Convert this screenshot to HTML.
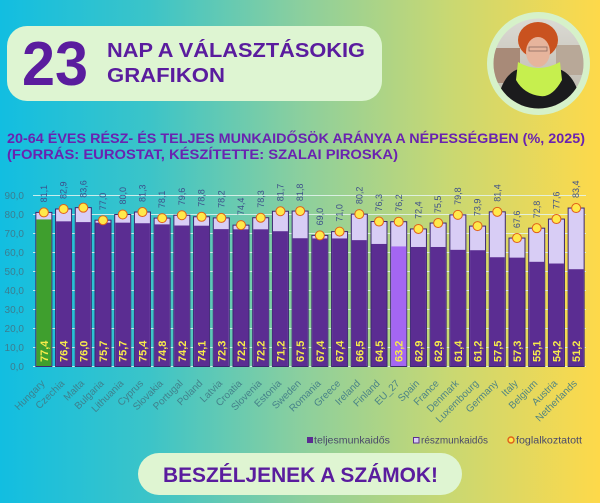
<!DOCTYPE html>
<html><head><meta charset="utf-8"><style>
html,body{margin:0;padding:0;width:600px;height:503px;overflow:hidden;}
svg{display:block;}
text{font-family:"Liberation Sans",sans-serif;}
</style></head><body>
<svg width="600" height="503" viewBox="0 0 600 503" xmlns="http://www.w3.org/2000/svg">
<defs>
<linearGradient id="bg" x1="0" y1="0" x2="1" y2="0">
<stop offset="0" stop-color="#12bee1"/>
<stop offset="0.25" stop-color="#3cc4c8"/>
<stop offset="0.5" stop-color="#8bcf9e"/>
<stop offset="0.75" stop-color="#c9d872"/>
<stop offset="1" stop-color="#fed94a"/>
</linearGradient>
<clipPath id="ph"><circle cx="538.5" cy="63.5" r="45"/></clipPath>
<linearGradient id="sky" x1="0" y1="0" x2="0" y2="1">
<stop offset="0" stop-color="#dcdcd6"/><stop offset="1" stop-color="#b9b2a6"/>
</linearGradient>
</defs>
<rect width="600" height="503" fill="url(#bg)"/>

<!-- header -->
<rect x="7" y="26" width="375" height="75" rx="20" fill="#def5d2"/>
<text x="22" y="85" font-size="62" font-weight="bold" fill="#5a1c9e" textLength="66" lengthAdjust="spacingAndGlyphs">23</text>
<text x="107" y="57" font-size="20" font-weight="bold" fill="#5a1c9e" textLength="258" lengthAdjust="spacingAndGlyphs">NAP A VÁLASZTÁSOKIG</text>
<text x="107" y="82" font-size="20" font-weight="bold" fill="#5a1c9e" textLength="118" lengthAdjust="spacingAndGlyphs">GRAFIKON</text>

<!-- photo -->
<circle cx="538.5" cy="63.5" r="51.5" fill="#d6f1c9"/>
<g clip-path="url(#ph)">
<rect x="490" y="15" width="100" height="100" fill="url(#sky)"/>
<rect x="490" y="48" width="30" height="35" fill="#a88a78"/>
<rect x="556" y="45" width="34" height="30" fill="#b8a898"/>
<ellipse cx="538" cy="40" rx="20" ry="18" fill="#c9521f"/>
<ellipse cx="538" cy="52" rx="12" ry="15" fill="#e6b49c"/>
<rect x="529" y="47" width="18" height="4" fill="none" stroke="#8a6a60" stroke-width="0.8"/>
<path d="M496 112 Q500 72 522 68 L555 68 Q578 72 582 112 Z" fill="#1b1b1d"/>
<path d="M518 62 Q538 74 560 62 L562 80 Q552 98 540 96 Q524 94 516 80 Z" fill="#c6ef4e"/>
</g>

<!-- title -->
<text x="7" y="143" font-size="13.5" font-weight="bold" fill="#6a22b0" textLength="578" lengthAdjust="spacingAndGlyphs">20-64 ÉVES RÉSZ- ÉS TELJES MUNKAIDŐSÖK ARÁNYA A NÉPESSÉGBEN (%, 2025)</text>
<text x="7" y="159" font-size="13.5" font-weight="bold" fill="#6a22b0" textLength="391" lengthAdjust="spacingAndGlyphs">(FORRÁS: EUROSTAT, KÉSZÍTETTE: SZALAI PIROSKA)</text>

<!-- gridlines -->
<g stroke="#e4f4f0" stroke-opacity="0.85" stroke-width="1">
<line x1="33" x2="586" y1="195.5" y2="195.5"/>
<line x1="33" x2="586" y1="214.5" y2="214.5"/>
<line x1="33" x2="586" y1="233.5" y2="233.5"/>
<line x1="33" x2="586" y1="252.5" y2="252.5"/>
<line x1="33" x2="586" y1="271.5" y2="271.5"/>
<line x1="33" x2="586" y1="290.5" y2="290.5"/>
<line x1="33" x2="586" y1="309.5" y2="309.5"/>
<line x1="33" x2="586" y1="328.5" y2="328.5"/>
<line x1="33" x2="586" y1="347.5" y2="347.5"/>
<line x1="33" x2="586" y1="366.5" y2="366.5"/>
</g>
<g font-size="10" fill="#3c7d90" text-anchor="end">
<text x="24" y="199">90,0</text>
<text x="24" y="218">80,0</text>
<text x="24" y="237">70,0</text>
<text x="24" y="256">60,0</text>
<text x="24" y="275">50,0</text>
<text x="24" y="294">40,0</text>
<text x="24" y="313">30,0</text>
<text x="24" y="332">20,0</text>
<text x="24" y="351">10,0</text>
<text x="24" y="370">0,0</text>
</g>

<!-- bars: part-time (total) rect, full-time rect, outline -->
<g stroke="#3b2770" stroke-width="1">
<rect x="35.86" y="212.41" width="16" height="154.09" fill="#d8cdf5"/>
<rect x="55.57" y="208.99" width="16" height="157.51" fill="#d8cdf5"/>
<rect x="75.29" y="207.66" width="16" height="158.84" fill="#d8cdf5"/>
<rect x="95.00" y="220.2" width="16" height="146.3" fill="#d8cdf5"/>
<rect x="114.71" y="214.5" width="16" height="152" fill="#d8cdf5"/>
<rect x="134.43" y="212.03" width="16" height="154.47" fill="#d8cdf5"/>
<rect x="154.14" y="218.11" width="16" height="148.39" fill="#d8cdf5"/>
<rect x="173.86" y="215.26" width="16" height="151.24" fill="#d8cdf5"/>
<rect x="193.57" y="216.78" width="16" height="149.72" fill="#d8cdf5"/>
<rect x="213.29" y="217.92" width="16" height="148.58" fill="#d8cdf5"/>
<rect x="233.00" y="225.14" width="16" height="141.36" fill="#d8cdf5"/>
<rect x="252.71" y="217.73" width="16" height="148.77" fill="#d8cdf5"/>
<rect x="272.43" y="211.27" width="16" height="155.23" fill="#d8cdf5"/>
<rect x="292.14" y="211.08" width="16" height="155.42" fill="#d8cdf5"/>
<rect x="311.86" y="235.4" width="16" height="131.1" fill="#d8cdf5"/>
<rect x="331.57" y="231.6" width="16" height="134.9" fill="#d8cdf5"/>
<rect x="351.29" y="214.12" width="16" height="152.38" fill="#d8cdf5"/>
<rect x="371.00" y="221.53" width="16" height="144.97" fill="#d8cdf5"/>
<rect x="390.71" y="221.72" width="16" height="144.78" fill="#d8cdf5"/>
<rect x="410.43" y="228.94" width="16" height="137.56" fill="#d8cdf5"/>
<rect x="430.14" y="223.05" width="16" height="143.45" fill="#d8cdf5"/>
<rect x="449.86" y="214.88" width="16" height="151.62" fill="#d8cdf5"/>
<rect x="469.57" y="226.09" width="16" height="140.41" fill="#d8cdf5"/>
<rect x="489.29" y="211.84" width="16" height="154.66" fill="#d8cdf5"/>
<rect x="509.00" y="238.06" width="16" height="128.44" fill="#d8cdf5"/>
<rect x="528.71" y="228.18" width="16" height="138.32" fill="#d8cdf5"/>
<rect x="548.43" y="219.06" width="16" height="147.44" fill="#d8cdf5"/>
<rect x="568.14" y="208.04" width="16" height="158.46" fill="#d8cdf5"/>
</g>
<g stroke="none">
<rect x="36.36" y="219.44" width="15" height="146.56" fill="#3f9f2e"/>
<rect x="56.07" y="221.34" width="15" height="144.66" fill="#5b2d92"/>
<rect x="75.79" y="222.1" width="15" height="143.9" fill="#5b2d92"/>
<rect x="95.50" y="222.67" width="15" height="143.33" fill="#5b2d92"/>
<rect x="115.21" y="222.67" width="15" height="143.33" fill="#5b2d92"/>
<rect x="134.93" y="223.24" width="15" height="142.76" fill="#5b2d92"/>
<rect x="154.64" y="224.38" width="15" height="141.62" fill="#5b2d92"/>
<rect x="174.36" y="225.52" width="15" height="140.48" fill="#5b2d92"/>
<rect x="194.07" y="225.71" width="15" height="140.29" fill="#5b2d92"/>
<rect x="213.79" y="229.13" width="15" height="136.87" fill="#5b2d92"/>
<rect x="233.50" y="229.32" width="15" height="136.68" fill="#5b2d92"/>
<rect x="253.21" y="229.32" width="15" height="136.68" fill="#5b2d92"/>
<rect x="272.93" y="231.22" width="15" height="134.78" fill="#5b2d92"/>
<rect x="292.64" y="238.25" width="15" height="127.75" fill="#5b2d92"/>
<rect x="312.36" y="238.44" width="15" height="127.56" fill="#5b2d92"/>
<rect x="332.07" y="238.44" width="15" height="127.56" fill="#5b2d92"/>
<rect x="351.79" y="240.15" width="15" height="125.85" fill="#5b2d92"/>
<rect x="371.50" y="243.95" width="15" height="122.05" fill="#5b2d92"/>
<rect x="391.21" y="246.42" width="15" height="119.58" fill="#a466f2"/>
<rect x="410.93" y="246.99" width="15" height="119.01" fill="#5b2d92"/>
<rect x="430.64" y="246.99" width="15" height="119.01" fill="#5b2d92"/>
<rect x="450.36" y="249.84" width="15" height="116.16" fill="#5b2d92"/>
<rect x="470.07" y="250.22" width="15" height="115.78" fill="#5b2d92"/>
<rect x="489.79" y="257.25" width="15" height="108.75" fill="#5b2d92"/>
<rect x="509.50" y="257.63" width="15" height="108.37" fill="#5b2d92"/>
<rect x="529.21" y="261.81" width="15" height="104.19" fill="#5b2d92"/>
<rect x="548.93" y="263.52" width="15" height="102.48" fill="#5b2d92"/>
<rect x="568.64" y="269.22" width="15" height="96.78" fill="#5b2d92"/>
</g>

<!-- circles -->
<g fill="#ffe94a" stroke="#e0601a" stroke-width="1">
<circle cx="43.86" cy="212.41" r="4.5"/>
<circle cx="63.57" cy="208.99" r="4.5"/>
<circle cx="83.29" cy="207.66" r="4.5"/>
<circle cx="103.00" cy="220.2" r="4.5"/>
<circle cx="122.71" cy="214.5" r="4.5"/>
<circle cx="142.43" cy="212.03" r="4.5"/>
<circle cx="162.14" cy="218.11" r="4.5"/>
<circle cx="181.86" cy="215.26" r="4.5"/>
<circle cx="201.57" cy="216.78" r="4.5"/>
<circle cx="221.29" cy="217.92" r="4.5"/>
<circle cx="241.00" cy="225.14" r="4.5"/>
<circle cx="260.71" cy="217.73" r="4.5"/>
<circle cx="280.43" cy="211.27" r="4.5"/>
<circle cx="300.14" cy="211.08" r="4.5"/>
<circle cx="319.86" cy="235.4" r="4.5"/>
<circle cx="339.57" cy="231.6" r="4.5"/>
<circle cx="359.29" cy="214.12" r="4.5"/>
<circle cx="379.00" cy="221.53" r="4.5"/>
<circle cx="398.71" cy="221.72" r="4.5"/>
<circle cx="418.43" cy="228.94" r="4.5"/>
<circle cx="438.14" cy="223.05" r="4.5"/>
<circle cx="457.86" cy="214.88" r="4.5"/>
<circle cx="477.57" cy="226.09" r="4.5"/>
<circle cx="497.29" cy="211.84" r="4.5"/>
<circle cx="517.00" cy="238.06" r="4.5"/>
<circle cx="536.71" cy="228.18" r="4.5"/>
<circle cx="556.43" cy="219.06" r="4.5"/>
<circle cx="576.14" cy="208.04" r="4.5"/>
</g>

<!-- top labels (total) -->
<g font-size="9" fill="#3d4f8a">
<text transform="translate(47.0,202.4) rotate(-90)">81,1</text>
<text transform="translate(66.7,199.0) rotate(-90)">82,9</text>
<text transform="translate(86.4,197.7) rotate(-90)">83,6</text>
<text transform="translate(106.1,210.2) rotate(-90)">77,0</text>
<text transform="translate(125.8,204.5) rotate(-90)">80,0</text>
<text transform="translate(145.5,202.0) rotate(-90)">81,3</text>
<text transform="translate(165.2,208.1) rotate(-90)">78,1</text>
<text transform="translate(185.0,205.3) rotate(-90)">79,6</text>
<text transform="translate(204.7,206.8) rotate(-90)">78,8</text>
<text transform="translate(224.4,207.9) rotate(-90)">78,2</text>
<text transform="translate(244.1,215.1) rotate(-90)">74,4</text>
<text transform="translate(263.8,207.7) rotate(-90)">78,3</text>
<text transform="translate(283.5,201.3) rotate(-90)">81,7</text>
<text transform="translate(303.2,201.1) rotate(-90)">81,8</text>
<text transform="translate(323.0,225.4) rotate(-90)">69,0</text>
<text transform="translate(342.7,221.6) rotate(-90)">71,0</text>
<text transform="translate(362.4,204.1) rotate(-90)">80,2</text>
<text transform="translate(382.1,211.5) rotate(-90)">76,3</text>
<text transform="translate(401.8,211.7) rotate(-90)">76,2</text>
<text transform="translate(421.5,218.9) rotate(-90)">72,4</text>
<text transform="translate(441.2,213.1) rotate(-90)">75,5</text>
<text transform="translate(461.0,204.9) rotate(-90)">79,8</text>
<text transform="translate(480.7,216.1) rotate(-90)">73,9</text>
<text transform="translate(500.4,201.8) rotate(-90)">81,4</text>
<text transform="translate(520.1,228.1) rotate(-90)">67,6</text>
<text transform="translate(539.8,218.2) rotate(-90)">72,8</text>
<text transform="translate(559.5,209.1) rotate(-90)">77,6</text>
<text transform="translate(579.2,198.0) rotate(-90)">83,4</text>
</g>

<!-- bottom labels (full-time) -->
<g font-size="11" font-weight="bold" fill="#f7ec4a">
<text transform="translate(47.9,362) rotate(-90)">77,4</text>
<text transform="translate(67.6,362) rotate(-90)">76,4</text>
<text transform="translate(87.3,362) rotate(-90)">76,0</text>
<text transform="translate(107.0,362) rotate(-90)">75,7</text>
<text transform="translate(126.7,362) rotate(-90)">75,7</text>
<text transform="translate(146.4,362) rotate(-90)">75,4</text>
<text transform="translate(166.1,362) rotate(-90)">74,8</text>
<text transform="translate(185.9,362) rotate(-90)">74,2</text>
<text transform="translate(205.6,362) rotate(-90)">74,1</text>
<text transform="translate(225.3,362) rotate(-90)">72,3</text>
<text transform="translate(245.0,362) rotate(-90)">72,2</text>
<text transform="translate(264.7,362) rotate(-90)">72,2</text>
<text transform="translate(284.4,362) rotate(-90)">71,2</text>
<text transform="translate(304.1,362) rotate(-90)">67,5</text>
<text transform="translate(323.9,362) rotate(-90)">67,4</text>
<text transform="translate(343.6,362) rotate(-90)">67,4</text>
<text transform="translate(363.3,362) rotate(-90)">66,5</text>
<text transform="translate(383.0,362) rotate(-90)">64,5</text>
<text transform="translate(402.7,362) rotate(-90)">63,2</text>
<text transform="translate(422.4,362) rotate(-90)">62,9</text>
<text transform="translate(442.1,362) rotate(-90)">62,9</text>
<text transform="translate(461.9,362) rotate(-90)">61,4</text>
<text transform="translate(481.6,362) rotate(-90)">61,2</text>
<text transform="translate(501.3,362) rotate(-90)">57,5</text>
<text transform="translate(521.0,362) rotate(-90)">57,3</text>
<text transform="translate(540.7,362) rotate(-90)">55,1</text>
<text transform="translate(560.4,362) rotate(-90)">54,2</text>
<text transform="translate(580.1,362) rotate(-90)">51,2</text>
</g>

<!-- x labels -->
<g font-size="10" fill="#3f7a86" fill-opacity="0.9" text-anchor="end">
<text transform="translate(45.4,384) rotate(-45)">Hungary</text>
<text transform="translate(65.1,384) rotate(-45)">Czechia</text>
<text transform="translate(84.8,384) rotate(-45)">Malta</text>
<text transform="translate(104.5,384) rotate(-45)">Bulgaria</text>
<text transform="translate(124.2,384) rotate(-45)">Lithuania</text>
<text transform="translate(143.9,384) rotate(-45)">Cyprus</text>
<text transform="translate(163.6,384) rotate(-45)">Slovakia</text>
<text transform="translate(183.4,384) rotate(-45)">Portugal</text>
<text transform="translate(203.1,384) rotate(-45)">Poland</text>
<text transform="translate(222.8,384) rotate(-45)">Latvia</text>
<text transform="translate(242.5,384) rotate(-45)">Croatia</text>
<text transform="translate(262.2,384) rotate(-45)">Slovenia</text>
<text transform="translate(281.9,384) rotate(-45)">Estonia</text>
<text transform="translate(301.6,384) rotate(-45)">Sweden</text>
<text transform="translate(321.4,384) rotate(-45)">Romania</text>
<text transform="translate(341.1,384) rotate(-45)">Greece</text>
<text transform="translate(360.8,384) rotate(-45)">Ireland</text>
<text transform="translate(380.5,384) rotate(-45)">Finland</text>
<text transform="translate(400.2,384) rotate(-45)">EU_27</text>
<text transform="translate(419.9,384) rotate(-45)">Spain</text>
<text transform="translate(439.6,384) rotate(-45)">France</text>
<text transform="translate(459.4,384) rotate(-45)">Denmark</text>
<text transform="translate(479.1,384) rotate(-45)">Luxembourg</text>
<text transform="translate(498.8,384) rotate(-45)">Germany</text>
<text transform="translate(518.5,384) rotate(-45)">Italy</text>
<text transform="translate(538.2,384) rotate(-45)">Belgium</text>
<text transform="translate(557.9,384) rotate(-45)">Austria</text>
<text transform="translate(577.6,384) rotate(-45)">Netherlands</text>
</g>

<!-- legend -->
<rect x="307" y="437" width="6" height="6" fill="#5b2d92"/>
<text x="314" y="443.5" font-size="10" fill="#4a4a6a" textLength="76" lengthAdjust="spacingAndGlyphs">teljesmunkaidős</text>
<rect x="413.5" y="437.5" width="5.5" height="5.5" fill="#d8cdf5" stroke="#5b2d92" stroke-width="1"/>
<text x="421" y="443.5" font-size="10" fill="#4a4a6a" textLength="67" lengthAdjust="spacingAndGlyphs">részmunkaidős</text>
<circle cx="511" cy="440" r="3" fill="#ffe94a" stroke="#e0601a" stroke-width="1.4"/>
<text x="516" y="443.5" font-size="10" fill="#4a4a6a" textLength="66" lengthAdjust="spacingAndGlyphs">foglalkoztatott</text>

<!-- footer -->
<rect x="138" y="453" width="324" height="42" rx="21" fill="#dff5d2"/>
<text x="163" y="482" font-size="21" font-weight="bold" fill="#5a1c9e" textLength="275" lengthAdjust="spacingAndGlyphs">BESZÉLJENEK A SZÁMOK!</text>
</svg>
</body></html>
